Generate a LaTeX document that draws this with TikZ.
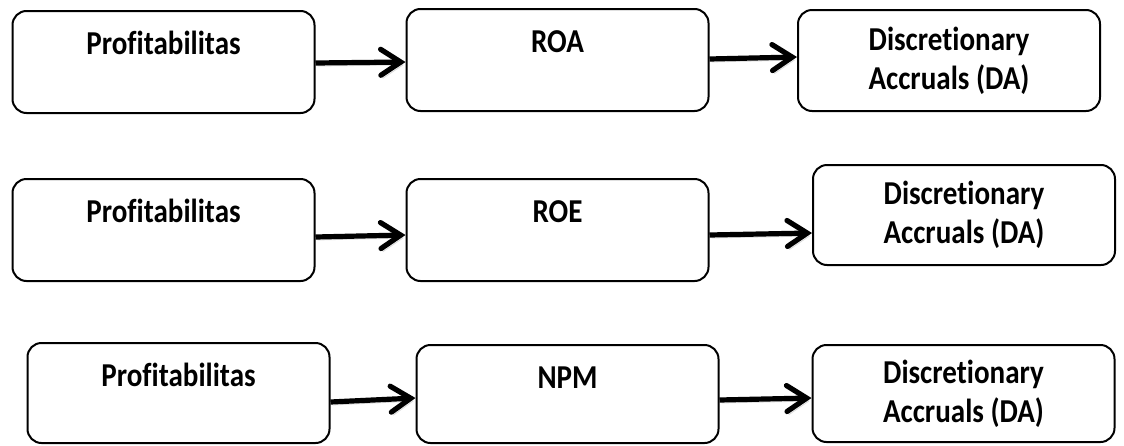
\documentclass[tikz,border=0pt]{standalone}
\usepackage{fontspec}
\setmainfont{Carlito}[FakeStretch=0.87, Ligatures=NoCommon]
\usepackage{tikz}
\usetikzlibrary{arrows.meta}

\begin{document}
\begin{tikzpicture}[
    x=0.5pt, y=-0.5pt,
    stage/.style={rectangle, draw=black, line width=1pt, rounded corners=7pt, inner sep=0pt, minimum width=151pt, text height=21.5pt, text depth=29.5pt, font=\fontsize{16.7}{19.5}\selectfont\bfseries},
    result/.style={rectangle, draw=black, line width=1pt, rounded corners=7pt, inner sep=0pt, minimum width=151pt, minimum height=50.5pt, align=center, font=\fontsize{16.7}{19.5}\selectfont\bfseries},
    link/.style={-{Straight Barb[length=10pt, width=13pt, line cap=round]}, line width=2.6pt, draw=black,
        preaction={draw=black!15, transform canvas={shift={(1pt,-1.5pt)}}}}
]
\useasboundingbox (0,0) rectangle (1124,445);

% Nodes
\node[stage] (prof1) at (163.5,62) {Profitabilitas};
\node[stage] (roa) at (557.5,60) {ROA};
\node[result] (da1) at (949,60.5) {Discretionary\\Accruals (DA)};

\node[stage] (prof2) at (163.5,230) {Profitabilitas};
\node[stage] (roe) at (557.5,230) {ROE};
\node[result, minimum height=50pt] (da2) at (964,215) {Discretionary\\Accruals (DA)};

\node[stage, text depth=28.5pt] (prof3) at (178.5,393) {Profitabilitas};
\node[stage, text depth=27.5pt] (npm) at (567.5,394) {NPM};
\node[result, minimum height=48.5pt] (da3) at (963.5,393.5) {Discretionary\\Accruals (DA)};

% Edges
\draw[link] ([yshift=-0.5pt]prof1.east) -- ([yshift=-1pt]roa.west);
\draw[link] ([yshift=0.5pt]roa.east) -- ([yshift=1.75pt]da1.west);
\draw[link] ([yshift=-3.5pt]prof2.east) -- ([yshift=-2.5pt]roe.west);
\draw[link] ([yshift=-2.5pt]roe.east) -- ([yshift=-9pt]da2.west);
\draw[link] ([yshift=-4.5pt]prof3.east) -- ([yshift=-2pt]npm.west);
\draw[link] ([yshift=-3pt]npm.east) -- ([yshift=-2.25pt]da3.west);

\end{tikzpicture}
\end{document}
